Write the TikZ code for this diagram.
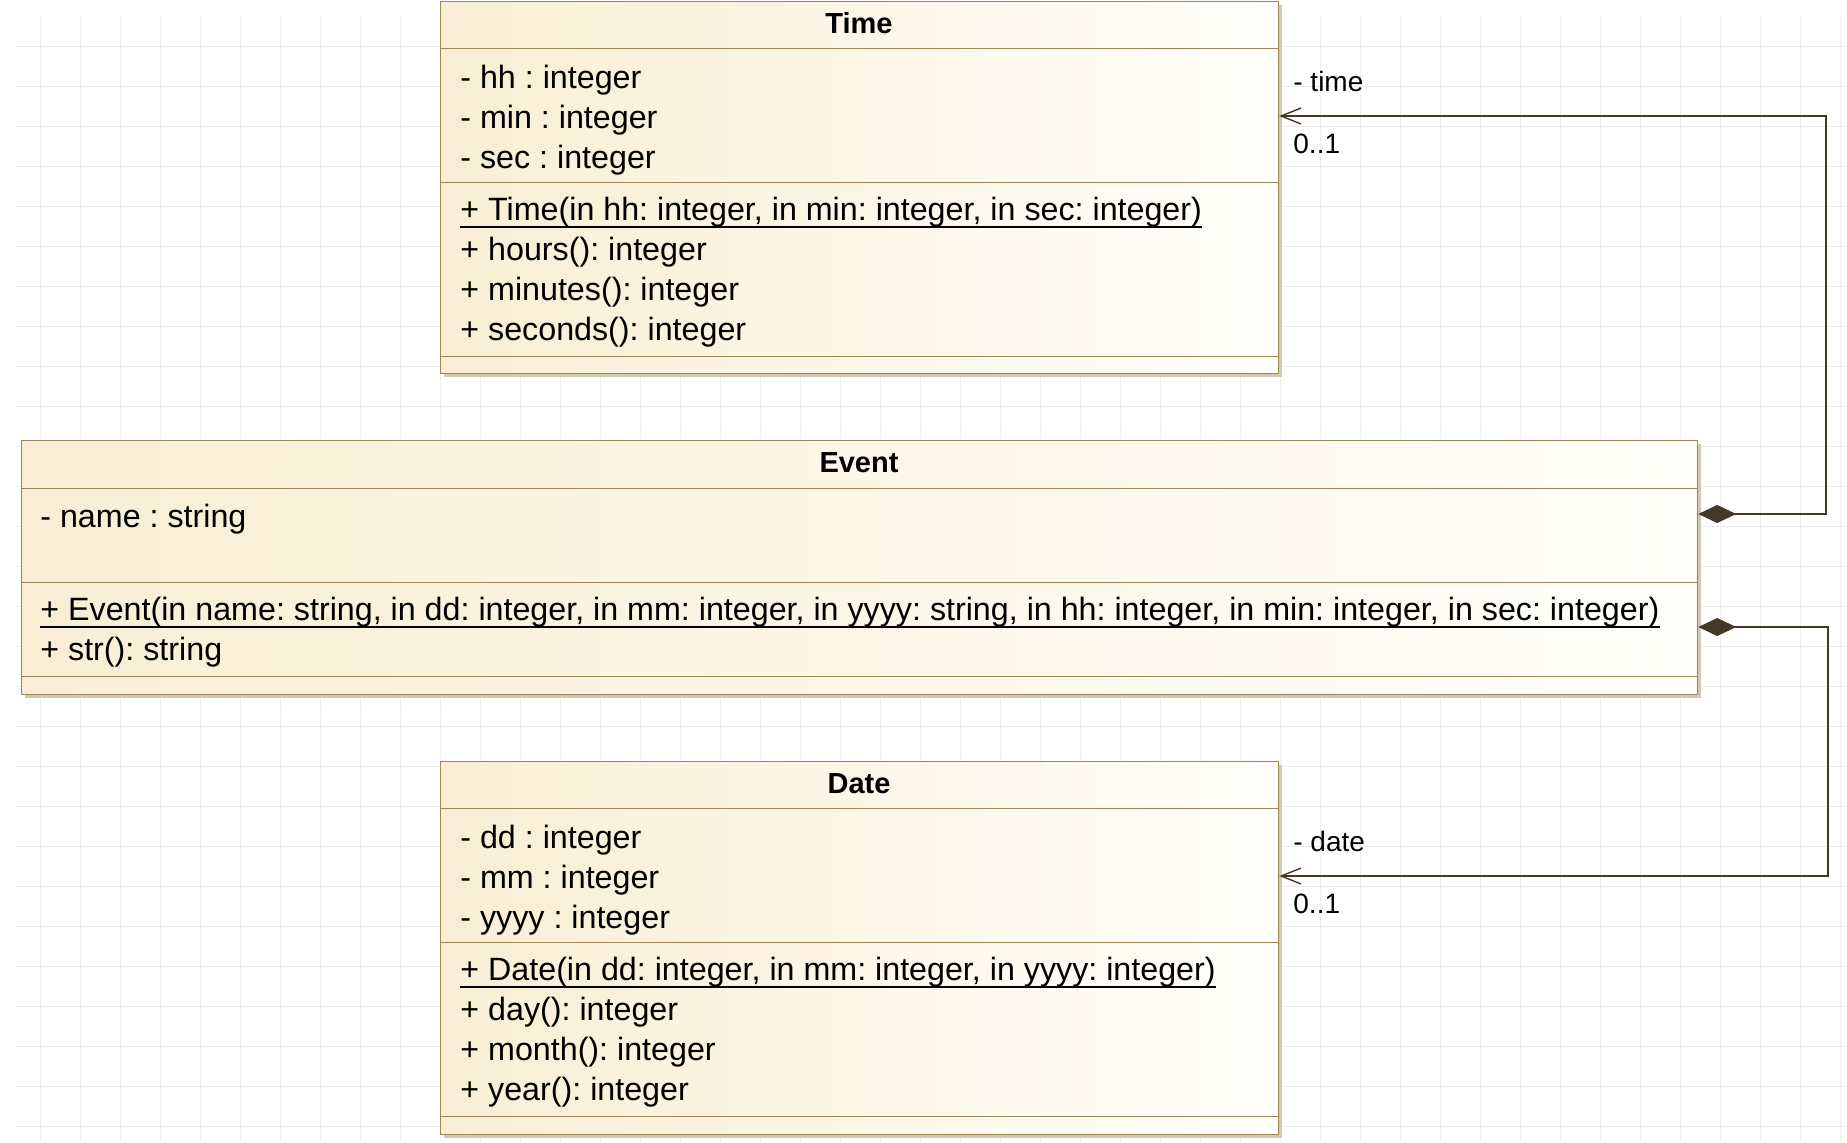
\documentclass[tikz,border=0pt]{standalone}
\usepackage{fontspec}
\setmainfont{Liberation Sans}
\usepackage{tikz}
\usetikzlibrary{arrows.meta}
\usetikzlibrary{shadows}
\usetikzlibrary{calc}
\frenchspacing

\definecolor{classbeige}{HTML}{F9EED4}
\definecolor{classwhite}{HTML}{FFFEFA}
\definecolor{classline}{HTML}{9C8658}
\definecolor{shadowtan}{HTML}{D3C9B3}
\definecolor{linkbrown}{HTML}{433927}
\definecolor{gridgray}{HTML}{EDEDED}

\tikzset{
	classbox/.style={anchor=north west,draw=classline,line width=0.6pt,left color=classbeige,right color=classwhite,inner sep=0pt,
		drop shadow={shadow xshift=1.5pt,shadow yshift=-1.5pt,fill=shadowtan,opacity=1}},
	sep/.style={draw=classline,line width=0.5pt},
	title/.style={anchor=base,inner sep=0pt,font=\fontsize{14.5}{18}\selectfont\bfseries},
	member/.style={anchor=base west,inner sep=0pt,font=\fontsize{16.12}{20}\selectfont},
	role/.style={anchor=base west,inner sep=0pt,font=\fontsize{14}{16}\selectfont},
	uline/.style={line width=0.7pt},
	composition/.style={draw=linkbrown,line width=0.8pt,
		{Diamond[length=19pt,width=9pt,fill=linkbrown]}-{Straight Barb[length=10pt,width=8pt,line width=0.7pt]}}
}

\begin{document}
\begin{tikzpicture}[x=0.5pt,y=-0.5pt]
	\useasboundingbox (0,0) rectangle (1847,1142);
	% grid
	\foreach \x in {40,80,...,1840}
		\draw[gridgray,line width=0.5pt] (\x,16) -- (\x,1142);
	\foreach \k in {0,...,27}
		\draw[gridgray,line width=0.5pt] (16,{46.3+40*\k}) -- (1847,{46.3+40*\k});

	% classes
	\draw (440,1) node (time) [classbox,minimum width=419pt,minimum height=186pt] {};
	\draw (21,440) node (event) [classbox,minimum width=838pt,minimum height=127pt] {};
	\draw (440,761) node (date) [classbox,minimum width=419pt,minimum height=186.5pt] {};
	\foreach \n/\d in {time/23.5,time/90.5,time/177.5,event/24,event/71,event/118,date/23.5,date/90.5,date/177.5}
		\draw[sep] ([yshift=-\d]\n.north west) -- ([yshift=-\d]\n.north east);

	% Time
	\draw (859,33) node (timetitle) [title] {Time};
	\draw (460,88) node (hh) [member] {- hh : integer};
	\draw (460,128) node (min) [member] {- min : integer};
	\draw (460,168) node (sec) [member] {- sec : integer};
	\draw (460,220) node (timector) [member] {+ Time(in hh: integer, in min: integer, in sec: integer)};
	\draw (460,260) node (hours) [member] {+ hours(): integer};
	\draw (460,300) node (minutes) [member] {+ minutes(): integer};
	\draw (460,340) node (seconds) [member] {+ seconds(): integer};

	% Event
	\draw (859,472) node (eventtitle) [title] {Event};
	\draw (40,527) node (name) [member] {- name : string};
	\draw (40,620) node (eventctor) [member] {+ Event(in name: string, in dd: integer, in mm: integer, in yyyy: string, in hh: integer, in min: integer, in sec: integer)};
	\draw (40,660) node (str) [member] {+ str(): string};

	% Date
	\draw (859,793) node (datetitle) [title] {Date};
	\draw (460,848) node (dd) [member] {- dd : integer};
	\draw (460,888) node (mm) [member] {- mm : integer};
	\draw (460,928) node (yyyy) [member] {- yyyy : integer};
	\draw (460,980) node (datector) [member] {+ Date(in dd: integer, in mm: integer, in yyyy: integer)};
	\draw (460,1020) node (day) [member] {+ day(): integer};
	\draw (460,1060) node (month) [member] {+ month(): integer};
	\draw (460,1100) node (year) [member] {+ year(): integer};

	\foreach \n in {timector,eventctor,datector}
		\draw[uline] ([yshift=-3.5pt]\n.base west) -- ([yshift=-3.5pt]\n.base east);

	% links
	\draw[composition] (event.east |- 0,514) -| (1826,116) -- (time.east |- 0,116);
	\draw[composition] (event.east |- 0,627) -| (1828,876) -- (date.east |- 0,876);
	\draw (1293,91) node (timerole) [role] {- time};
	\draw (1293,153) node (timemult) [role] {0..1};
	\draw (1293,851) node (daterole) [role] {- date};
	\draw (1293,913) node (datemult) [role] {0..1};
\end{tikzpicture}
\end{document}
